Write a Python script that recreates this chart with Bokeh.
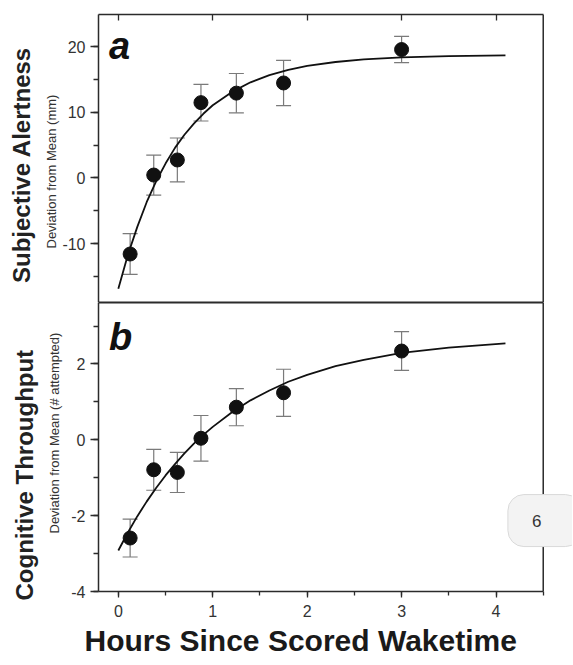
from bokeh.plotting import figure
from bokeh.models import (ColumnDataSource, Whisker, TeeHead, Label, LinearAxis,
                          FixedTicker, SingleIntervalTicker, Range1d, Title, Span,
                          PrintfTickFormatter, CustomLabelingPolicy)
from bokeh.layouts import column
from bokeh.embed import file_html
from bokeh.resources import INLINE

FONT = "Liberation Sans"
INK = "#2b2b2b"
GREY_BAR = "#7a7a7a"

# data
hours = [0.125, 0.375, 0.625, 0.875, 1.25, 1.75, 3.0]

alert_mean = [-11.6, 0.45, 2.75, 11.5, 12.95, 14.5, 19.6]
alert_err = [3.1, 3.05, 3.35, 2.8, 3.0, 3.45, 2.0]

cog_mean = [-2.59, -0.79, -0.86, 0.04, 0.86, 1.24, 2.34]
cog_err = [0.5, 0.54, 0.53, 0.6, 0.49, 0.62, 0.51]

# fitted curves
fit_hours = [0, 0.1, 0.2, 0.3, 0.4, 0.5, 0.6, 0.7, 0.8, 0.9, 1.0, 1.2, 1.4,
             1.6, 1.8, 2.0, 2.3, 2.6, 3.0, 3.5, 4.1]
alert_fit = [-16.9, -11.8, -7.5, -3.7, -0.5, 2.2, 4.6, 6.6, 8.3, 9.8, 11.1,
             13.1, 14.6, 15.7, 16.5, 17.1, 17.7, 18.1, 18.4, 18.6, 18.7]
cog_fit = [-2.92, -2.45, -2.02, -1.63, -1.27, -0.94, -0.64, -0.36, -0.10, 0.13,
           0.34, 0.72, 1.04, 1.30, 1.53, 1.71, 1.94, 2.11, 2.29, 2.43, 2.54]

X_START, X_EDGE = -0.21, 4.5   # the drawn box ends at 4.5 h
X_END = 4.81                   # frame runs on to the page edge (for the tab)
WIDTH = 572


def line_only_axis(**kw):
    # an axis that is just a line along one edge of the box
    return LinearAxis(ticker=FixedTicker(ticks=[]), axis_line_color=INK,
                      axis_line_width=2, major_tick_out=0, major_tick_in=0,
                      minor_tick_out=0, minor_tick_in=0, major_label_standoff=0,
                      axis_label_standoff=0, **kw)


def style_left_axis(ax, interval):
    ax.ticker = SingleIntervalTicker(interval=interval, num_minor_ticks=2)
    ax.formatter = PrintfTickFormatter(format="%d")
    ax.major_tick_in = 0
    ax.major_tick_out = 8
    ax.minor_tick_in = 0
    ax.minor_tick_out = 5
    ax.major_label_standoff = 5
    ax.major_label_text_font = FONT
    ax.major_label_text_font_size = "16px"
    ax.major_label_text_color = "#333333"
    ax.axis_line_color = INK
    ax.axis_line_width = 1.5
    ax.major_tick_line_color = INK
    ax.minor_tick_line_color = INK
    ax.major_tick_line_width = 1.3
    ax.minor_tick_line_width = 1.3


def add_data(p, mean, err, fit):
    src = ColumnDataSource(dict(
        x=hours, y=mean,
        upper=[m + e for m, e in zip(mean, err)],
        lower=[m - e for m, e in zip(mean, err)],
    ))
    w = Whisker(source=src, base="x", upper="upper", lower="lower",
                line_color=GREY_BAR, line_width=1.2,
                upper_head=TeeHead(size=15, line_color=GREY_BAR, line_width=1.2),
                lower_head=TeeHead(size=15, line_color=GREY_BAR, line_width=1.2))
    p.add_layout(w)
    p.line(fit_hours, fit, line_color="#111111", line_width=1.8, line_join="round")
    p.scatter("x", "y", source=src, size=14, fill_color="#111111", line_color="#111111")
    p.add_layout(Span(location=X_EDGE, dimension="height", line_color=INK,
                      line_width=1.5))


def side_title(p, text, size, style, offset, standoff, color="#222222"):
    p.add_layout(Title(text=text, align="left", offset=offset, standoff=standoff,
                       text_font=FONT, text_font_size=size, text_font_style=style,
                       text_color=color), "left")


def new_panel(height, y_range, border_top, border_bottom, x_range):
    p = figure(width=WIDTH, height=height, x_range=x_range, y_range=y_range,
               x_axis_location=None, output_backend="svg", toolbar_location=None,
               min_border_left=97, min_border_right=0, min_border_top=border_top,
               min_border_bottom=border_bottom)
    p.xgrid.grid_line_color = None
    p.ygrid.grid_line_color = None
    p.outline_line_color = None
    p.background_fill_color = "white"
    p.border_fill_color = "white"
    return p


# ---- top panel: subjective alertness
top = new_panel(302, Range1d(-19, 24.95), 14, 0, Range1d(X_START, X_END))

above = LinearAxis(ticker=SingleIntervalTicker(interval=1, num_minor_ticks=0),
                   bounds=(X_START, X_EDGE), axis_line_color=INK,
                   axis_line_width=1.5, major_tick_in=6, major_tick_out=0,
                   minor_tick_in=0, minor_tick_out=0, major_tick_line_color=INK,
                   major_tick_line_width=1.3, major_label_standoff=0,
                   major_label_text_font_size="1px",
                   major_label_policy=CustomLabelingPolicy(code="return []"))
top.add_layout(above, "above")
top.add_layout(line_only_axis(bounds=(X_START, X_EDGE)), "below")

style_left_axis(top.yaxis[0], 10)
add_data(top, alert_mean, alert_err, alert_fit)

top.add_layout(Label(x=-0.10, y=20.1, text="a", text_font=FONT,
                     text_font_size="38px", text_font_style="bold italic",
                     text_color="#111111", text_baseline="alphabetic"))
side_title(top, "Deviation from Mean (mm)", "13px", "normal", 54, 2, "#333333")
side_title(top, "Subjective Alertness", "24px", "bold", 19.5, 11)

# ---- bottom panel: cognitive throughput
bot = new_panel(361, Range1d(-4.0, 3.62), 0, 72, top.x_range)
bot.add_layout(line_only_axis(bounds=(X_START, X_EDGE)), "above")

bx = LinearAxis(ticker=SingleIntervalTicker(interval=1, num_minor_ticks=2),
                bounds=(X_START, X_EDGE),
                major_tick_in=0, major_tick_out=6, minor_tick_in=0, minor_tick_out=4,
                major_label_standoff=7, major_label_text_font=FONT,
                major_label_text_font_size="16px", major_label_text_color="#333333",
                axis_line_color=INK, axis_line_width=1.5,
                major_tick_line_color=INK, minor_tick_line_color=INK,
                major_tick_line_width=1.3, minor_tick_line_width=1.3)
bot.add_layout(bx, "below")

style_left_axis(bot.yaxis[0], 2)
add_data(bot, cog_mean, cog_err, cog_fit)

bot.add_layout(Label(x=-0.10, y=2.70, text="b", text_font=FONT,
                     text_font_size="38px", text_font_style="bold italic",
                     text_color="#111111", text_baseline="alphabetic"))
side_title(bot, "Deviation from Mean (# attempted)", "13px", "normal", 58, 13, "#333333")
side_title(bot, "Cognitive Throughput", "24px", "bold", -9, 1)

bot.add_layout(Title(text="Hours Since Scored Waketime", align="left", offset=-14,
                     standoff=4, text_font=FONT, text_font_size="30px",
                     text_font_style="bold", text_color="#1a1a1a"), "below")

# page-number tab at the right edge
bot.add_layout(Label(x=4.515, y=-2.13, text="6", text_font=FONT,
                     text_font_size="17px", text_color="#333333",
                     text_align="center", text_baseline="middle",
                     background_fill_color="#f3f3f3",
                     border_line_color="#d9d9d9", border_line_width=1,
                     padding=dict(left=24, right=40, top=20, bottom=20),
                     border_radius=16))

page = column(top, bot, spacing=0)
open("out.html", "w").write(file_html(page, INLINE))
